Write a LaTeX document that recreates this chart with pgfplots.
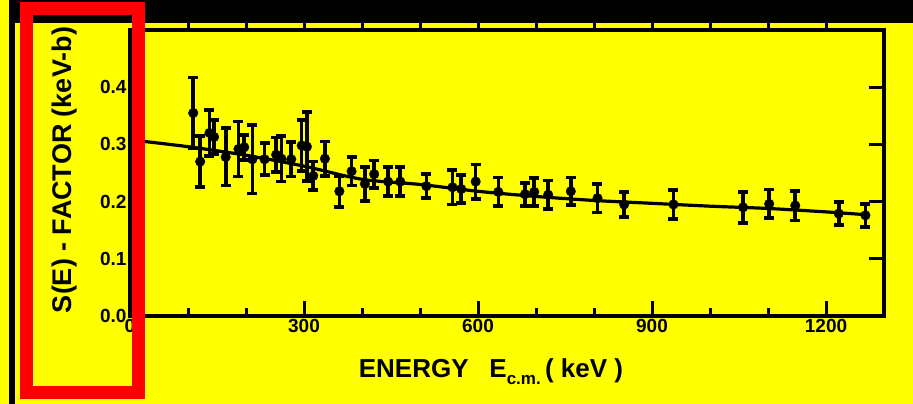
\documentclass[border=0pt]{standalone}
\usepackage{fontspec}
\setmainfont{Liberation Sans}
\usepackage{pgfplots}
\usepackage{pgfplotstable}
\pgfplotsset{compat=1.18}
\definecolor{bgyellow}{RGB}{255,255,0}
\definecolor{boxred}{RGB}{255,0,0}

% measured S-factor points: energy (keV), S (keV-b), error
\pgfplotstableread{
E S err
109 0.355 0.062
121 0.270 0.045
137 0.320 0.040
145 0.313 0.030
165 0.278 0.050
187 0.292 0.048
197 0.295 0.022
211 0.274 0.060
232 0.274 0.028
252 0.282 0.030
261 0.275 0.040
278 0.274 0.030
296 0.298 0.045
305 0.296 0.060
316 0.245 0.025
336 0.275 0.030
361 0.218 0.027
382 0.253 0.025
405 0.231 0.030
421 0.248 0.024
445 0.235 0.025
466 0.235 0.025
511 0.227 0.021
556 0.225 0.030
571 0.222 0.025
596 0.235 0.030
635 0.217 0.025
681 0.213 0.020
697 0.217 0.024
721 0.212 0.025
760 0.218 0.024
806 0.206 0.025
852 0.195 0.022
937 0.195 0.025
1057 0.190 0.027
1102 0.196 0.025
1147 0.193 0.026
1222 0.179 0.020
1268 0.176 0.020
}\sdata

% fitted curve
\pgfplotstableread{
E S
0 0.308
100 0.296
200 0.281
300 0.262
400 0.239
500 0.230
600 0.218
700 0.209
800 0.202
900 0.197
1000 0.192
1100 0.188
1200 0.182
1270 0.177
}\fitcurve

\begin{document}
\begin{tikzpicture}[x=1pt,y=1pt]
\fill[bgyellow] (0,0) rectangle (913,404);

\begin{axis}[
  at={(130pt,88pt)}, anchor=south west,
  scale only axis, width=754pt, height=286pt,
  xmin=0, xmax=1300, ymin=0, ymax=0.5,
  axis line style={line width=3.2pt},
  xtick={0,300,600,900,1200},
  extra x ticks={100,200,400,500,700,800,1000,1100},
  extra x tick labels={},
  extra x tick style={major tick length=8pt},
  xtick pos=left, tick align=inside,
  major tick length=15pt,
  ytick={0,0.1,0.2,0.3,0.4}, yticklabels={0.0,0.1,0.2,0.3,0.4},
  ytick pos=right, yticklabel pos=left,
  tick style={line width=3pt, black},
  ticklabel style={font=\fontsize{19}{19}\selectfont\bfseries},
  /pgf/number format/assume math mode=true,
  /pgf/number format/set thousands separator={},
  clip=false,
]
\addplot[black, line width=3.2pt, smooth, no marks] table[x=E,y=S] {\fitcurve};
\addplot[black, only marks, mark=*, mark size=4.8pt,
  error bars/.cd, y dir=both, y explicit,
  error bar style={line width=3.6pt},
  error mark options={rotate=90, mark size=5pt, line width=3.8pt}]
  table[x=E, y=S, y error=err] {\sdata};
\end{axis}

% top axis: outward ticks every 100 keV
\begin{axis}[
  at={(130pt,88pt)}, anchor=south west,
  scale only axis, width=754pt, height=286pt,
  xmin=0, xmax=1300, ymin=0, ymax=0.5,
  xtick={100,200,...,1200}, xticklabels={}, ytick=\empty,
  xtick pos=right, xticklabel pos=right,
  tick align=outside, major tick length=10pt,
  tick style={line width=3pt, black},
  axis line style={line width=3.2pt},
]
\end{axis}

% scan borders
\fill[black] (9,381) rectangle (913,404);
\fill[black] (9,0) rectangle (15,404);
\draw[boxred, line width=13pt] (26,11) rectangle (138,395);

% axis titles
\node[rotate=90, font=\fontsize{27}{27}\selectfont\bfseries] at (65,234) {S(E) - FACTOR (keV-b)};
\node[font=\fontsize{26}{26}\selectfont\bfseries] at (491,32)
  {ENERGY\hspace{0.8em}E\raisebox{-7pt}{\fontsize{17}{17}\selectfont c.m.}\,( keV )};
\end{tikzpicture}
\end{document}
